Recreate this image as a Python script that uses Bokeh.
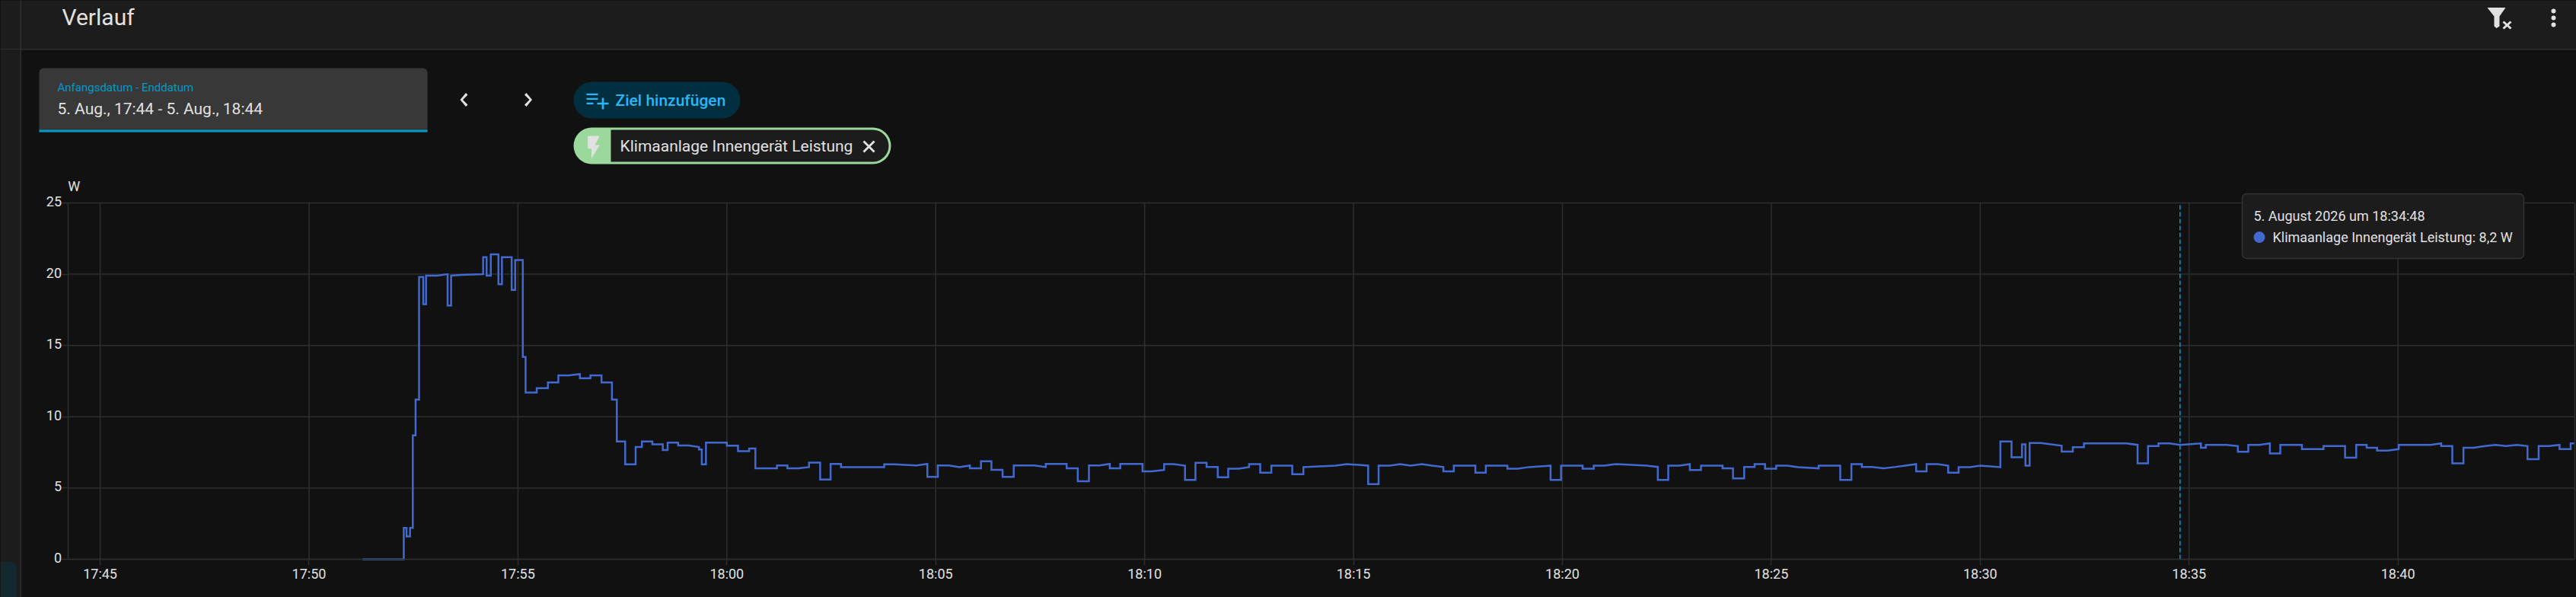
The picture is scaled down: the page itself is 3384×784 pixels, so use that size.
import pandas as pd
from bokeh.embed import file_html
from bokeh.models import (BoxAnnotation, DatetimeTickFormatter, FixedTicker, Label,
                          PolyAnnotation, Range1d)
from bokeh.core.properties import value
from bokeh.plotting import figure
from bokeh.resources import INLINE

# ---- chart values (seconds relative to 18:00:00, watts) ----
BASE = "2026-08-05 18:00:00"
RANGE_START = "2026-08-05 17:44:14"
RANGE_END = "2026-08-05 18:44:14"
HOVER_TIME = "2026-08-05 18:34:47"
x_tick_times = ["17:45", "17:50", "17:55", "18:00", "18:05", "18:10", "18:15",
                "18:20", "18:25", "18:30", "18:35", "18:40"]
y_ticks = [0, 5, 10, 15, 20, 25]
y_tick_labels = ["0", "5", "10", "15", "20", "25"]

sec_startup = [-523, -464, -464, -460, -460, -455, -455, -451, -451, -447, -447, -442, -442, -436, -436, -432, -432,
               -416, -401, -401, -396, -396, -381, -350, -350, -345, -345, -339, -339, -328, -328, -323, -323,
               -309, -309, -304, -304, -293, -293, -289, -289]
watt_startup = [0, 0, 2.2, 2.2, 1.6, 1.6, 2.2, 2.2, 8.7, 8.7, 11.2, 11.2, 19.8, 19.8, 17.9, 17.9, 19.9,
                19.9, 20.0, 17.8, 17.8, 19.9, 19.95, 20.0, 21.2, 21.2, 19.9, 19.9, 21.4, 21.4, 19.3, 19.3, 21.2,
                21.2, 18.9, 18.9, 21.0, 21.0, 14.2, 14.2, 11.7]

sec_settle = [-273, -273, -257, -257, -242, -242, -227, -211, -211, -196, -196, -180, -180, -165, -165, -158, -158,
              -146, -146, -131, -131, -122, -122, -107, -107, -92, -92, -85, -85, -70, -70, -55, -40, -40, -36, -36,
              -30, -30, 0, 0, 16, 16, 32, 32, 41, 41]
watt_settle = [11.7, 12.0, 12.0, 12.4, 12.4, 12.9, 12.9, 13.0, 12.7, 12.7, 12.9, 12.9, 12.4, 12.4, 11.2, 11.2, 8.27,
               8.27, 6.67, 6.67, 7.88, 7.88, 8.27, 8.27, 8.07, 8.07, 7.66, 7.66, 8.18, 8.18, 7.98, 7.98, 7.88, 7.7,
               7.7, 6.67, 6.67, 8.18, 8.18, 7.97, 7.97, 7.58, 7.58, 7.77, 7.77, 6.39]

sec_idle_a = [72, 72, 87, 87, 103, 118, 118, 134, 134, 149, 149, 164, 164, 226, 226, 241, 272, 288, 288, 303, 303,
              319, 334, 349, 349, 365, 365, 380, 380, 396, 396, 412, 412, 442, 458, 458, 488, 488, 504, 504, 520, 520,
              535, 550, 550, 565, 565, 597, 597, 610, 628, 628, 642, 658, 658, 673, 673, 689, 689, 705, 705, 720, 720]
watt_idle_a = [6.39, 6.58, 6.58, 6.39, 6.39, 6.47, 6.78, 6.78, 5.59, 5.59, 6.69, 6.69, 6.47, 6.47, 6.67, 6.67, 6.58,
               6.69, 5.78, 5.78, 6.58, 6.58, 6.47, 6.58, 6.39, 6.39, 6.88, 6.88, 6.28, 6.28, 5.78, 5.78, 6.58, 6.58,
               6.47, 6.69, 6.69, 6.39, 6.39, 5.48, 5.48, 6.58, 6.58, 6.69, 6.39, 6.39, 6.69, 6.69, 6.17, 6.17, 6.27,
               6.68, 6.68, 6.57, 5.57, 5.57, 6.77, 6.77, 6.48, 6.48, 5.76, 5.76, 6.36]

sec_idle_b = [735, 750, 750, 766, 766, 782, 782, 812, 812, 828, 828, 844, 874, 890, 921, 921, 936, 936, 952, 967, 982,
              998, 1013, 1029, 1029, 1044, 1044, 1075, 1075, 1090, 1090, 1121, 1121, 1136, 1152, 1183, 1183, 1198,
              1198, 1229, 1229, 1245, 1245, 1260, 1276, 1284, 1321, 1337, 1337, 1352, 1352, 1368, 1383, 1383, 1399,
              1399, 1430, 1430, 1445, 1445, 1461, 1461, 1476, 1476, 1491, 1491, 1507, 1507]
watt_idle_b = [6.36, 6.47, 6.68, 6.68, 6.08, 6.08, 6.57, 6.57, 5.97, 5.97, 6.47, 6.5, 6.57, 6.68, 6.57, 5.27, 5.27,
               6.57, 6.57, 6.68, 6.57, 6.68, 6.57, 6.47, 6.17, 6.17, 6.57, 6.57, 6.08, 6.08, 6.57, 6.57, 6.36, 6.36,
               6.47, 6.57, 5.57, 5.57, 6.57, 6.57, 6.36, 6.36, 6.57, 6.57, 6.68, 6.66, 6.57, 6.48, 5.57, 5.57, 6.57,
               6.57, 6.68, 6.27, 6.27, 6.57, 6.57, 6.38, 6.38, 5.67, 5.67, 6.48, 6.48, 6.68, 6.68, 6.36, 6.36, 6.57]

sec_idle_c = [1523, 1538, 1568, 1568, 1599, 1599, 1615, 1615, 1630, 1630, 1645, 1661, 1677, 1692, 1708, 1708, 1723,
              1723, 1739, 1754, 1754, 1769, 1769, 1785, 1800, 1829, 1829, 1845, 1845, 1860, 1860, 1865, 1865, 1871,
              1871, 1887, 1917, 1917, 1933, 1933, 1949, 1949]
watt_idle_c = [6.57, 6.47, 6.38, 6.57, 6.57, 5.57, 5.57, 6.68, 6.68, 6.48, 6.48, 6.38, 6.47, 6.57, 6.68, 6.17, 6.17,
               6.68, 6.68, 6.57, 6.08, 6.08, 6.47, 6.47, 6.57, 6.47, 8.27, 8.27, 7.16, 7.16, 8.07, 8.07, 6.57, 6.57,
               8.16, 8.16, 7.97, 7.56, 7.56, 7.86, 7.86, 8.13]

sec_high = [2010, 2026, 2026, 2041, 2041, 2056, 2056, 2072, 2087, 2117, 2117, 2124, 2124, 2154, 2170, 2170, 2185, 2185,
            2201, 2216, 2216, 2231, 2231, 2262, 2262, 2293, 2293, 2324, 2324, 2340, 2340, 2355, 2355, 2370, 2370, 2385,
            2401, 2401, 2447, 2462, 2462, 2478, 2478, 2494, 2494, 2509, 2525, 2540, 2555, 2571, 2586, 2586, 2602, 2602,
            2617, 2632, 2632, 2648, 2648, 2653]
watt_high = [8.13, 8.03, 6.73, 6.73, 7.94, 7.94, 8.13, 8.13, 8.03, 8.13, 7.82, 7.82, 8.03, 8.03, 7.94, 7.54, 7.54, 8.03,
             8.03, 8.13, 7.43, 7.43, 8.03, 8.03, 7.73, 7.73, 7.94, 7.94, 7.13, 7.13, 8.03, 8.03, 7.82, 7.82, 7.62, 7.62,
             7.73, 8.03, 8.03, 8.13, 7.94, 7.94, 6.73, 6.73, 7.82, 7.82, 7.94, 8.03, 7.94, 8.03, 7.94, 7.02, 7.02, 7.94,
             7.94, 8.03, 7.73, 7.73, 8.13, 8.13]

seconds = sec_startup + sec_settle + sec_idle_a + sec_idle_b + sec_idle_c + sec_high
watts = watt_startup + watt_settle + watt_idle_a + watt_idle_b + watt_idle_c + watt_high

# ---- colours ----
BG = "#111111"
BAR = "#1c1c1c"
DIV = "#2f2f2f"
GRID = "#2e2e2e"
TXT = "#e1e1e1"
BLUE = "#4269d0"
CYAN = "#039be5"
LIGHT = "#29b6f6"
GREEN = "#9ad89c"
FONT = "Roboto"

# ---- layout of the plot area on the canvas (pixels) ----
CANVAS_W, CANVAS_H = 3384, 784
PLOT_L, PLOT_R, PLOT_T, PLOT_B = 89, 3382, 266, 734

t0 = pd.Timestamp(RANGE_START)
t1 = pd.Timestamp(RANGE_END)
ms = lambda ts: ts.value / 1e6
sec_per_px = (t1 - t0).total_seconds() / (PLOT_R - PLOT_L)
w_per_px = max(y_ticks) / (PLOT_B - PLOT_T)

# the frame fills the canvas so that the page chrome can be drawn around the chart
view_x = Range1d(t0 - pd.to_timedelta(PLOT_L * sec_per_px, unit="s"),
                 t1 + pd.to_timedelta((CANVAS_W - PLOT_R) * sec_per_px, unit="s"))
view_y = Range1d(-(CANVAS_H - PLOT_B) * w_per_px, max(y_ticks) + PLOT_T * w_per_px)

times = pd.Timestamp(BASE) + pd.to_timedelta(seconds, unit="s")

p = figure(width=CANVAS_W, height=CANVAS_H, x_axis_type="datetime", output_backend="svg", toolbar_location=None,
           x_range=view_x, y_range=view_y, min_border=0)
p.background_fill_color = BG
p.border_fill_color = BG
p.outline_line_color = None
p.grid.visible = False

day = BASE.split(" ")[0]
tick_stamps = [pd.Timestamp(f"{day} {t}:00") for t in x_tick_times]
tick_ms = [ms(ts) for ts in tick_stamps]
xax, yax = p.xaxis[0], p.yaxis[0]
xax.ticker = FixedTicker(ticks=tick_ms)
xax.formatter = DatetimeTickFormatter(seconds="%H:%M", minsec="%H:%M", minutes="%H:%M", hourmin="%H:%M",
                                      hours="%H:%M", days="%H:%M", months="%H:%M", years="%H:%M")
yax.ticker = FixedTicker(ticks=y_ticks)
xax.fixed_location = 0
yax.fixed_location = ms(t0)
xax.bounds = (ms(t0), ms(t1))
yax.bounds = (0, max(y_ticks))
for ax in (xax, yax):
    ax.axis_line_color = GRID
    ax.axis_line_width = 1.5
    ax.major_tick_line_color = GRID
    ax.major_tick_line_width = 1.5
    ax.major_tick_out = 8
    ax.major_tick_in = 0
    ax.minor_tick_line_color = None
    ax.major_label_text_color = TXT
    ax.major_label_text_font = FONT
    ax.major_label_text_font_size = "18px"
xax.major_label_standoff = 0
yax.major_label_text_color = None

# grid lines, limited to the plot area
top = max(y_ticks)
n_x, n_y = len(tick_stamps), len(y_ticks)
p.segment(tick_stamps + [t1], [0] * (n_x + 1), tick_stamps + [t1], [top] * (n_x + 1),
          line_color=GRID, line_width=1.5, level="underlay")
p.segment([t0] * n_y, y_ticks, [t1] * n_y, y_ticks, line_color=GRID, line_width=1.5, level="underlay")

# value labels of the y axis, placed at their tick values
p.text([t0] * n_y, y_ticks, text=y_tick_labels, x_offset=-8.5, y_offset=-2, text_align="right",
       text_baseline="middle", text_color=TXT, text_font=value(FONT), text_font_size="18px")

p.line(times, watts, line_color=BLUE, line_width=2.5, line_join="miter")
hover = pd.Timestamp(HOVER_TIME)
p.segment([hover], [0], [hover], [top], line_color=CYAN, line_width=1.5, line_dash="6 3")


def box(l, t, r, b, fill, radius=0, line=None, lw=1):
    p.add_layout(BoxAnnotation(left=l, right=r, top=t, bottom=b, left_units="canvas", right_units="canvas",
                               top_units="canvas", bottom_units="canvas", fill_color=fill, fill_alpha=1,
                               line_color=line, line_width=lw, line_alpha=1 if line else 0, border_radius=radius,
                               level="annotation"))


def text(x, y, s, size, color=TXT, font=FONT, align="left"):
    p.add_layout(Label(x=x, y=y - 1.5, x_units="canvas", y_units="canvas", text=s, text_font=font,
                       text_font_size=f"{size}px", text_color=color,
                       text_baseline="middle", text_align=align))


def poly(xs, ys, fill):
    p.add_layout(PolyAnnotation(xs=xs, ys=ys, xs_units="canvas", ys_units="canvas", fill_color=fill, fill_alpha=1,
                                line_alpha=0))


# header and side bar
box(0, 0, 3384, 64, BAR)
box(0, 63.5, 3384, 65, DIV)
box(0, 65, 26, 784, BAR)
box(26, 0, 27.5, 784, DIV)
box(0, 737, 21, 784, "#14292f", radius=(0, 8, 0, 0))
text(81, 23, "Verlauf", 30)

# funnel icon
poly([3267, 3291, 3283, 3283, 3279, 3276, 3276], [9.5, 9.5, 21, 34, 36.5, 34, 21], TXT)
poly([3287, 3289, 3299, 3297], [29, 27, 36, 38], TXT)
poly([3297, 3299, 3289, 3287], [27, 29, 38, 36], TXT)
# menu dots
for dy in (14, 23, 32):
    box(3351, dy - 3, 3357, dy + 3, TXT, radius=3)

# date range field
box(51, 89, 561, 173, "#383838", radius=(6, 6, 0, 0))
box(51, 170, 561, 173, "#0398c9")
text(75, 116, "Anfangsdatum - Enddatum", 15, "#0398c9")
text(75, 143.5, "5. Aug., 17:44 - 5. Aug., 18:44", 21)

# chevrons
poly([611.5, 614, 607.5, 614, 611.5, 604], [121.5, 124, 130.5, 137, 139.5, 130.5], TXT)
poly([691, 688.5, 695, 688.5, 691, 698.5], [121.5, 124, 130.5, 137, 139.5, 130.5], TXT)

# add-target button
box(753, 107, 972, 155, "#022f40", radius=24)
box(770, 122.3, 785, 124.6, LIGHT)
box(770, 128.3, 785, 130.6, LIGHT)
box(770, 134.3, 779, 136.6, LIGHT)
box(784, 134.2, 799, 136.8, LIGHT)
box(790.2, 128, 792.8, 143, LIGHT)
text(808, 132.5, "Ziel hinzufügen", 21, LIGHT, font="Roboto Medium")

# entity chip
box(753, 167, 1170, 215, GREEN, radius=24)
box(802, 170, 1167, 212, BAR, radius=(0, 21, 21, 0))
poly([771.7, 771.7, 776.4, 776.4, 787.3, 781, 787.3], [178, 194.5, 194.5, 208, 190, 190, 178], TXT)
text(814, 192.5, "Klimaanlage Innengerät Leistung", 21)
poly([1133, 1135, 1149, 1147], [186, 184, 198, 200], TXT)
poly([1147, 1149, 1135, 1133], [184, 186, 200, 198], TXT)

# axis unit
text(96.7, 245.5, "W", 18, align="center")

# tooltip
box(2945, 254, 3315, 339, BAR, radius=6, line="#333333", lw=1.5)
text(2960, 284.5, "5. August 2026 um 18:34:48", 18)
box(2960, 303.5, 2975, 318.5, BLUE, radius=8)
text(2985, 312, "Klimaanlage Innengerät Leistung: 8,2 W", 18)

TEMPLATE = """{% block preamble %}<style>html,body{margin:0;padding:0;background:#111111;overflow:hidden}</style>{% endblock %}"""
open("out.html", "w").write(file_html(p, INLINE, template=TEMPLATE))
